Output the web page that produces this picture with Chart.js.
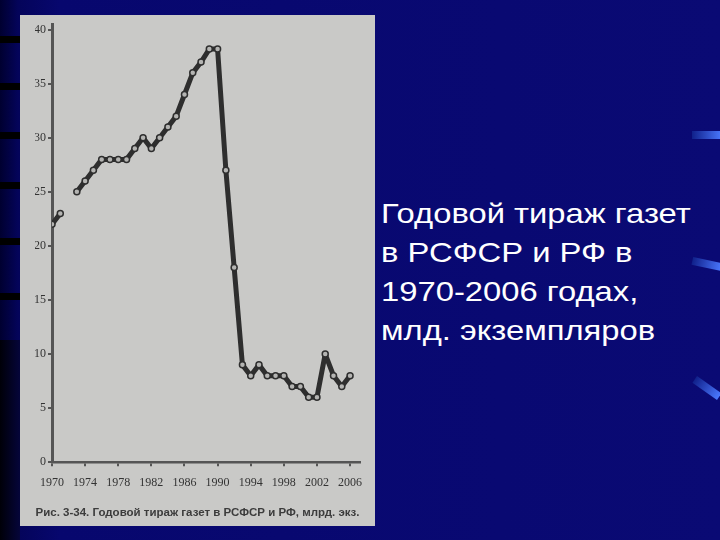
<!DOCTYPE html>
<html>
<head>
<meta charset="utf-8">
<script src="https://cdn.jsdelivr.net/npm/chart.js@4"></script>
<style>
	html, body { margin: 0; padding: 0; }
	body {
		width: 720px; height: 540px; overflow: hidden; position: relative;
		background: linear-gradient(to right, #000030 0px, #04045a 18px, #07076e 60px, #0a0a74 100%);
	}
	.bar { position: absolute; left: 0; width: 20px; height: 7px; background: #000; }
	.shade { position: absolute; left: 0; top: 340px; width: 20px; height: 200px; background: linear-gradient(to right, #000008, #05053a); }
	.dash { position: absolute; height: 8px; width: 30px; background: linear-gradient(to right, #10208a, #4a78ff); }
	#panel { position: absolute; left: 20px; top: 15px; width: 355px; height: 511px; background: #c9c9c7; }
	#title {
		position: absolute; left: 381px; top: 194px; color: #fff;
		font: 28px "Liberation Sans", Arial, sans-serif; line-height: 39px;
		transform: scaleX(1.17); transform-origin: left top; white-space: nowrap;
	}
</style>
</head>
<body>
<div class="bar" style="top:36px"></div>
<div class="bar" style="top:83px"></div>
<div class="bar" style="top:132px"></div>
<div class="bar" style="top:182px"></div>
<div class="bar" style="top:238px"></div>
<div class="bar" style="top:293px"></div>
<div class="shade"></div>
<div class="dash" style="left:692px;top:131px"></div>
<div class="dash" style="left:692px;top:260px;transform:rotate(12deg)"></div>
<div class="dash" style="left:692px;top:384px;transform:rotate(35deg)"></div>

<div id="panel"><canvas id="chart" width="355" height="511"></canvas></div>
<div id="title">Годовой тираж газет<br>в РСФСР и РФ в<br>1970-2006 годах,<br>млд. экземпляров</div>

<script>
const years = [1970, 1971, 1972, 1973, 1974, 1975, 1976, 1977, 1978, 1979, 1980, 1981, 1982,
	1983, 1984, 1985, 1986, 1987, 1988, 1989, 1990, 1991, 1992, 1993, 1994, 1995, 1996,
	1997, 1998, 1999, 2000, 2001, 2002, 2003, 2004, 2005, 2006];
const circulation = [22, 23, null, 25, 26, 27, 28, 28, 28, 28, 29, 30, 29,
	30, 31, 32, 34, 36, 37, 38.2, 38.2, 27, 18, 9, 8, 9, 8,
	8, 8, 7, 7, 6, 6, 10, 8, 7, 8];
const xTicks = [1970, 1974, 1978, 1982, 1986, 1990, 1994, 1998, 2002, 2006];
const yTicks = [0, 5, 10, 15, 20, 25, 30, 35, 40];
const caption = 'Рис. 3-34. Годовой тираж газет в РСФСР и РФ, млрд. экз.';

const ink = '#2e2e2e';
const tickFont = { family: '"Liberation Serif", "DejaVu Serif", serif', size: 12 };

new Chart(document.getElementById('chart'), {
	type: 'line',
	data: {
		datasets: [{
			data: years.map((y, i) => ({ x: y, y: circulation[i] })),
			borderColor: ink,
			borderWidth: 5,
			borderJoinStyle: 'round',
			spanGaps: false,
			tension: 0,
			pointRadius: 3,
			pointBackgroundColor: '#b4b4b2',
			pointBorderColor: ink,
			pointBorderWidth: 1.5,
		}],
	},
	options: {
		responsive: false,
		animation: false,
		// equal side padding keeps the caption centred in the panel
		layout: { padding: { top: 5, right: 15, left: 15, bottom: 0 } },
		plugins: {
			legend: { display: false },
			tooltip: { enabled: false },
			title: {
				display: true,
				position: 'bottom',
				text: caption,
				color: '#3c3c3c',
				font: { family: '"Liberation Sans", Arial, sans-serif', size: 11.5, weight: 'bold' },
				padding: { top: 14, bottom: 6 },
			},
		},
		scales: {
			x: {
				type: 'linear',
				min: 1970,
				max: 2007.2,
				afterBuildTicks: (s) => { s.ticks = xTicks.map((v) => ({ value: v })); },
				afterFit: (s) => { s.height = 30; },
				ticks: { color: '#333', font: tickFont, padding: 9, maxRotation: 0, callback: (v) => String(v) },
				grid: { drawOnChartArea: false, drawTicks: true, tickLength: 4, color: '#555', lineWidth: 2 },
				border: { color: '#555', width: 2.5 },
			},
			y: {
				min: 0,
				max: 40.5,
				afterBuildTicks: (s) => { s.ticks = yTicks.map((v) => ({ value: v })); },
				afterFit: (s) => { s.width = 17; },
				ticks: { color: '#333', font: tickFont, padding: 2 },
				grid: { drawOnChartArea: false, drawTicks: true, tickLength: 4, color: '#555', lineWidth: 2 },
				border: { color: '#555', width: 3 },
			},
		},
	},
});
</script>
</body>
</html>
